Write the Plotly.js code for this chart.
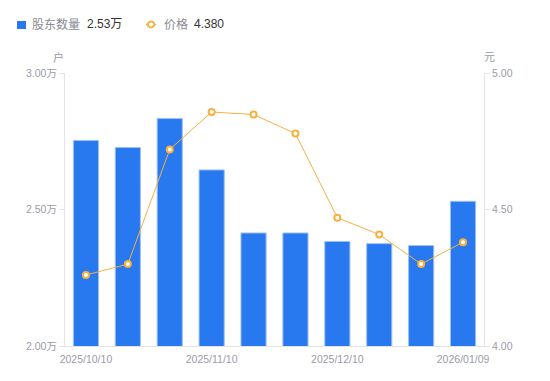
<!DOCTYPE html>
<html>
<head>
<meta charset="utf-8">
<script src="https://cdn.plot.ly/plotly-3.0.1.min.js"></script>
<style>html,body{margin:0;padding:0;background:#fff;}#chart{width:550px;height:381px;}</style>
</head>
<body>
<div id="chart"></div>
<script>
const dates = ["2025/10/10","2025/10/20","2025/10/31","2025/11/10","2025/11/20","2025/11/28","2025/12/10","2025/12/19","2025/12/31","2026/01/09"];
const holders = [2.753, 2.727, 2.833, 2.645, 2.414, 2.414, 2.383, 2.375, 2.368, 2.53];
const prices = [4.26, 4.30, 4.72, 4.857, 4.848, 4.778, 4.47, 4.408, 4.30, 4.38];
const tickDates = ["2025/10/10","2025/11/10","2025/12/10","2026/01/09"];
const leftTicks = [2.0, 2.5, 3.0];
const leftTickText = ["2.00万", "2.50万", "3.00万"];
const rightTicks = [4.0, 4.5, 5.0];
const rightTickText = ["4.00", "4.50", "5.00"];

const fontFam = '"Liberation Sans", "Noto Sans CJK SC", sans-serif';
const axisGray = '#9b9ba8';
const lineGray = '#e3e3e8';

const traces = [
  {
    type: 'bar', x: dates, y: holders, name: '股东数量',
    marker: {color: '#2878f0', line: {color: '#9cc0f7', width: 1}},
    width: 0.6, hoverinfo: 'none'
  },
  {
    type: 'scatter', mode: 'lines+markers', x: dates, y: prices, yaxis: 'y2', name: '价格',
    line: {color: '#f8b03e', width: 1},
    marker: {color: '#ffffff', size: 6, line: {color: '#f8b03e', width: 2}},
    hoverinfo: 'none', cliponaxis: false
  }
];

const layout = {
  width: 550, height: 381,
  margin: {l: 65, r: 66, t: 73, b: 35},
  paper_bgcolor: '#fff', plot_bgcolor: '#fff',
  font: {family: fontFam, size: 11, color: axisGray},
  showlegend: false,
  xaxis: {
    type: 'category', range: [-0.5, 9.5], automargin: false,
    tickmode: 'array', tickvals: tickDates, ticktext: tickDates, ticklabelstandoff: 3,
    showgrid: false, showline: true, linecolor: lineGray, linewidth: 1,
    ticks: '', tickfont: {size: 10.5, color: axisGray}, zeroline: false
  },
  yaxis: {
    range: [2.0, 3.0], automargin: false,
    tickmode: 'array', tickvals: leftTicks, ticktext: leftTickText,
    showgrid: false, showline: true, linecolor: lineGray, linewidth: 1,
    ticks: 'outside', ticklen: 5, tickcolor: lineGray, tickfont: {size: 10.5, color: axisGray},
    zeroline: false
  },
  yaxis2: {
    overlaying: 'y', side: 'right', range: [4.0, 5.0], automargin: false,
    tickmode: 'array', tickvals: rightTicks, ticktext: rightTickText,
    showgrid: false, showline: true, linecolor: lineGray, linewidth: 1,
    ticks: 'outside', ticklen: 5, tickcolor: lineGray, tickfont: {size: 10.5, color: axisGray},
    zeroline: false
  },
  shapes: [
    {type: 'rect', xref: 'paper', yref: 'paper', x0: -0.1146, x1: -0.0931, y0: 1.1612, y1: 1.1905,
      fillcolor: '#2878f0', line: {width: 0}},
    {type: 'line', xref: 'paper', yref: 'paper', x0: 0.1933, x1: 0.2172, y0: 1.1777, y1: 1.1777,
      line: {color: '#f8b03e', width: 1.5}},
    {type: 'circle', xref: 'paper', yref: 'paper', x0: 0.1977, x1: 0.2129, y0: 1.1667, y1: 1.1887,
      fillcolor: '#ffffff', line: {color: '#f8b03e', width: 2}}
  ],
  annotations: [
    {xref: 'paper', yref: 'paper', x: -0.0835, y: 1.1777, xanchor: 'left', yanchor: 'middle', showarrow: false,
      text: '股东数量', font: {size: 12, color: '#8a8a96'}},
    {xref: 'paper', yref: 'paper', x: 0.0477, y: 1.1777, xanchor: 'left', yanchor: 'middle', showarrow: false,
      text: '2.53万', font: {size: 12, color: '#333333'}},
    {xref: 'paper', yref: 'paper', x: 0.2310, y: 1.1777, xanchor: 'left', yanchor: 'middle', showarrow: false,
      text: '价格', font: {size: 12, color: '#8a8a96'}},
    {xref: 'paper', yref: 'paper', x: 0.3031, y: 1.1777, xanchor: 'left', yanchor: 'middle', showarrow: false,
      text: '4.380', font: {size: 12, color: '#333333'}},
    {xref: 'paper', yref: 'paper', x: -0.0167, y: 1.0586, xanchor: 'center', yanchor: 'middle', showarrow: false,
      text: '户', font: {size: 11, color: axisGray}},
    {xref: 'paper', yref: 'paper', x: 1.0143, y: 1.0586, xanchor: 'center', yanchor: 'middle', showarrow: false,
      text: '元', font: {size: 11, color: axisGray}}
  ]
};

Plotly.newPlot('chart', traces, layout, {displayModeBar: false, staticPlot: true});
</script>
</body>
</html>
